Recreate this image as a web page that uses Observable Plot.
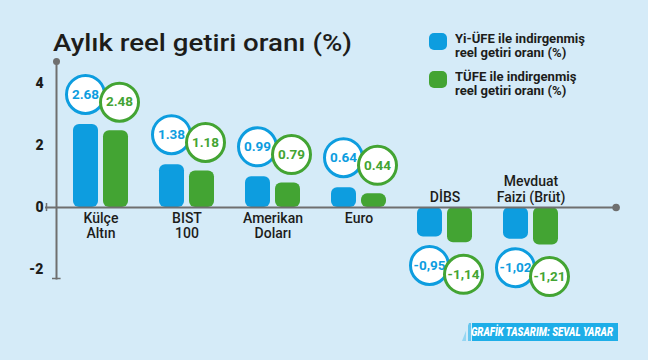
<!DOCTYPE html>
<html>
<head>
<meta charset="utf-8">
<script src="https://cdn.jsdelivr.net/npm/d3@7"></script>
<script src="https://cdn.jsdelivr.net/npm/@observablehq/plot@0.6"></script>
<style>
  html, body { margin: 0; padding: 0; }
  body { width: 648px; height: 360px; overflow: hidden; background: #d5ebf8; }
  #wrap { position: relative; width: 648px; height: 360px; background: #d5ebf8; }
  #chart { position: absolute; left: 0; top: 0; }
  .fit { display: inline-block; transform-origin: 0 0; white-space: nowrap; }
  #title { position: absolute; left: 53px; top: 29px; font-family: Roboto, sans-serif; font-weight: 500;
           font-size: 24px; line-height: 28px; color: #1d1d1b; }
  .leg { position: absolute; left: 429px; font-family: Roboto, sans-serif;
         font-weight: bold; font-size: 12.5px; line-height: 13.5px; color: #1d1d1b; }
  .leg .sw { position: absolute; left: 0; top: 0; width: 18px; height: 17px; border-radius: 5px; }
  .leg .tx { position: absolute; left: 26px; top: -1px; }
  #credit { position: absolute; left: 462px; top: 323px; width: 156px; height: 18px;
            background: linear-gradient(90deg, rgba(30,174,232,0.35) 0 4px, transparent 4px 6px, rgba(30,174,232,0.6) 6px 9px, transparent 9px 10px, #1eaee8 10px);
            clip-path: polygon(7px 0, 100% 0, 100% 100%, 0 100%); }
  #credit .fit { position: absolute; left: 9px; top: 2px; font-family: Roboto, sans-serif;
                 font-weight: 900; font-style: italic; font-size: 12px; line-height: 14px; color: #fff; }
</style>
</head>
<body>
<div id="wrap">
  <div id="chart"></div>
  <div id="title"><span class="fit" data-w="299"></span></div>
  <div id="legend"></div>
  <div id="credit"><span class="fit" data-w="142"></span></div>
</div>
<script>
// ---- data ----
const categories = ["Külçe\nAltın", "BIST\n100", "Amerikan\nDoları", "Euro", "DİBS", "Mevduat\nFaizi (Brüt)"];
const yiufeValues = [2.68, 1.38, 0.99, 0.64, -0.95, -1.02];
const tufeValues  = [2.48, 1.18, 0.79, 0.44, -1.14, -1.21];
const yiufeLabels = ["2.68", "1.38", "0.99", "0.64", "-0,95", "-1,02"];
const tufeLabels  = ["2.48", "1.18", "0.79", "0.44", "-1,14", "-1,21"];
const seriesNames = ["Yi-ÜFE ile indirgenmiş\nreel getiri oranı (%)", "TÜFE ile indirgenmiş\nreel getiri oranı (%)"];
const yTicks = [-2, 0, 2, 4];
const titleText = "Aylık reel getiri oranı (%)";
const creditText = "GRAFİK TASARIM: SEVAL YARAR";

const BLUE = "#0d9ddf";
const GREEN = "#43a433";
const INK = "#1d1d1b";
const AXIS = "#6f6f6f";

const yiufe = categories.map((c, i) => ({cat: c, value: yiufeValues[i], label: yiufeLabels[i]}));
const tufe = categories.map((c, i) => ({cat: c, value: tufeValues[i], label: tufeLabels[i]}));
const catRows = categories.map((c, i) => ({cat: c, neg: yiufeValues[i] < 0}));

const circleMarks = (data, color, dx, dyPos, dyNeg) => [
  Plot.dot(data.filter(d => d.value >= 0), {x: "cat", y: "value", dx, dy: dyPos, r: 19, fill: "white", stroke: color, strokeWidth: 3}),
  Plot.dot(data.filter(d => d.value < 0), {x: "cat", y: "value", dx, dy: dyNeg, r: 19, fill: "white", stroke: color, strokeWidth: 3}),
  Plot.text(data.filter(d => d.value >= 0), {x: "cat", y: "value", dx, dy: dyPos, text: "label", fill: color, fontWeight: "bold", fontSize: 13.5}),
  Plot.text(data.filter(d => d.value < 0), {x: "cat", y: "value", dx, dy: dyNeg, text: "label", fill: color, fontWeight: "bold", fontSize: 13.5})
];

const chart = Plot.plot({
  width: 648,
  height: 360,
  marginLeft: 56,
  marginRight: 72.4,
  marginTop: 61,
  marginBottom: 82,
  style: {background: "transparent", fontFamily: "Roboto, sans-serif", color: INK},
  x: {domain: categories, paddingInner: 0.365, paddingOuter: 0.18, axis: null},
  y: {domain: [-2.29, 4.71], axis: null},
  marks: [
    Plot.axisY(yTicks, {label: null, tickSize: 0, tickPadding: 13, tickFormat: d => String(d), fontWeight: 900, fontSize: 14, fill: INK}),
    Plot.barY(yiufe, {x: "cat", y: "value", fill: BLUE, insetRight: 30, rx: 6}),
    Plot.barY(tufe, {x: "cat", y: "value", fill: GREEN, insetLeft: 30, rx: 6}),
    Plot.frame({anchor: "left", stroke: AXIS, strokeWidth: 2}),
    Plot.dot([4.71], {y: d => d, frameAnchor: "left", r: 3.5, fill: AXIS}),
    Plot.ruleY([-2.29], {insetLeft: -4, insetRight: 515, stroke: AXIS, strokeWidth: 1.5}),
    Plot.ruleY([0], {insetLeft: -11, insetRight: -40, stroke: AXIS, strokeWidth: 2}),
    Plot.ruleX([categories[0]], {y1: -0.13, y2: 0.13, dx: -54.5, stroke: AXIS, strokeWidth: 1.5}),
    Plot.dot([0], {y: d => d, frameAnchor: "right", dx: 40, r: 3.8, fill: AXIS}),
    Plot.text(catRows.filter(d => !d.neg), {x: "cat", y: 0, text: "cat", lineAnchor: "top", dy: 5, fontSize: 14, fontWeight: 500, fill: INK, lineHeight: 1.08}),
    Plot.text(catRows.filter(d => d.neg), {x: "cat", y: 0, text: "cat", lineAnchor: "bottom", dy: -6, fontSize: 14, fontWeight: 500, fill: INK, lineHeight: 1.08}),
    ...circleMarks(yiufe, BLUE, -15.5, -30, 28.5),
    ...circleMarks(tufe, GREEN, 18.5, -28.5, 31.5)
  ]
});
document.getElementById("chart").appendChild(chart);

document.querySelector("#title .fit").textContent = titleText;
document.querySelector("#credit .fit").textContent = creditText;

const legend = document.getElementById("legend");
const legendSpans = [];
[[BLUE, 33], [GREEN, 71]].forEach(([color, top], i) => {
  const item = document.createElement("div");
  item.className = "leg";
  item.style.top = top + "px";
  const sw = document.createElement("div");
  sw.className = "sw";
  sw.style.background = color;
  const tx = document.createElement("div");
  tx.className = "tx";
  const span = document.createElement("span");
  span.className = "fit";
  span.innerHTML = seriesNames[i].split("\n").join("<br>");
  tx.appendChild(span);
  item.appendChild(sw);
  item.appendChild(tx);
  legend.appendChild(item);
  legendSpans.push(span);
});

// horizontally fit condensed text blocks to the reference widths
document.querySelectorAll(".fit[data-w]").forEach(el => {
  const w = el.getBoundingClientRect().width;
  const target = +el.dataset.w;
  if (w > 0 && target) el.style.transform = `scaleX(${target / w})`;
});
// legend: same condensing for both entries, set from the first line width
const lw = legendSpans[0].getBoundingClientRect().width;
const ls = 130 / lw;
legendSpans.forEach(s => s.style.transform = `scaleX(${ls})`);
</script>
</body>
</html>
